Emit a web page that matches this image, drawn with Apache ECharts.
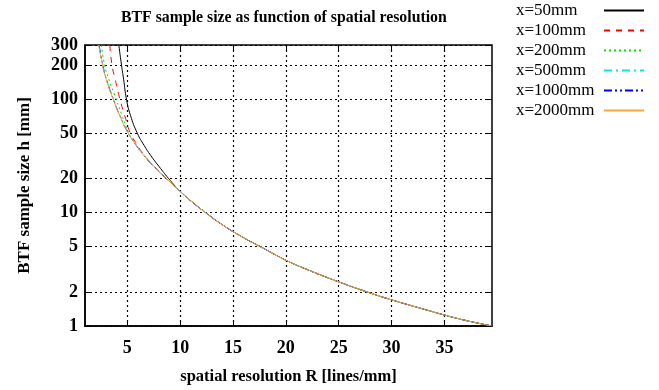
<!DOCTYPE html>
<html>
<head>
<meta charset="utf-8"/>
<title>BTF sample size</title>
<script src="https://cdn.jsdelivr.net/npm/echarts@6/dist/echarts.min.js"></script>
</head>
<body style="margin:0">
<div id="chart" style="width:659px;height:390px;"></div>
<script type="text/javascript">

// values: R [lines/mm] and h [mm]
var tailR = [10, 11, 12.4, 14, 16, 17.6, 20, 22, 25, 28, 30, 32, 35, 37, 39.5];
var tailH = [15.4, 12.7, 10, 7.8, 6.0, 5.0, 3.8, 3.15, 2.45, 1.95, 1.7, 1.5, 1.25, 1.12, 1.0];

var r50 = [4.2, 4.45, 4.65, 4.92, 5.3, 5.95, 6.6, 7.2, 8.0, 8.9];
var h50 = [300, 200, 150, 100, 72, 50, 39, 32, 25.5, 20];
var r100 = [3.35, 3.55, 3.85, 4.3, 4.75, 5.3, 5.9, 6.5, 7.5, 8.8];
var h100 = [300, 200, 150, 100, 72, 50, 40, 33, 25.8, 19.6];
var r200 = [2.55, 2.85, 3.25, 3.95, 4.5, 5.15, 5.7, 6.5, 7.5, 8.8];
var h200 = [300, 200, 150, 100, 72, 50, 41, 32.5, 25.5, 19.5];
var r500 = [2.35, 2.7, 3.05, 3.7, 4.33, 5.1, 5.7, 6.5, 7.5, 8.8];
var h500 = [300, 200, 150, 100, 71, 50, 41, 32.5, 25.5, 19.5];
var r1000 = [2.32, 2.67, 3.02, 3.67, 4.31, 5.1, 5.7, 6.5, 7.5, 8.8];
var h1000 = [300, 200, 150, 100, 71, 50, 41, 32.5, 25.5, 19.5];
var r2000 = [2.3, 2.65, 3.0, 3.65, 4.3, 5.1, 5.7, 6.5, 7.5, 8.8];
var h2000 = [300, 200, 150, 100, 71, 50, 41, 32.5, 25.5, 19.5];

var names = ['x=50mm', 'x=100mm', 'x=200mm', 'x=500mm', 'x=1000mm', 'x=2000mm'];
var xTicks = [5, 10, 15, 20, 25, 30, 35];
var yTicks = [1, 2, 5, 10, 20, 50, 100, 200, 300];

var font = 'Liberation Serif';

function pairs(r, h) {
    var out = [];
    var allR = r.concat(tailR), allH = h.concat(tailH);
    for (var i = 0; i < allR.length; i++) {
        out.push([allR[i], allH[i]]);
    }
    return out;
}

var styles = [
    {color: '#000000', type: 'solid'},
    {color: '#ff0000', type: [6, 6]},
    {color: '#00e000', type: [2, 3]},
    {color: '#00e8e8', type: [8, 4, 2, 4]},
    {color: '#0000ff', type: [8, 3, 2, 3, 2, 3]},
    {color: '#f8a838', type: 'solid'}
];
var dataSets = [pairs(r50, h50), pairs(r100, h100), pairs(r200, h200),
                pairs(r500, h500), pairs(r1000, h1000), pairs(r2000, h2000)];

var series = [];
for (var i = 0; i < names.length; i++) {
    series.push({
        name: names[i],
        type: 'line',
        data: dataSets[i],
        symbol: 'none',
        smooth: true,
        animation: false,
        lineStyle: {color: styles[i].color, type: styles[i].type, width: 1},
        itemStyle: {color: styles[i].color}
    });
}

var gridLine = {show: true, lineStyle: {color: '#000', type: [2, 3], width: 1.2}};

var chart = echarts.init(document.getElementById('chart'));
var option = {
    animation: false,
    title: {
        text: 'BTF sample size as function of spatial resolution',
        left: 116,
        top: 5,
        textStyle: {fontFamily: font, fontSize: 15.8, fontWeight: 'bold', color: '#000'}
    },
    legend: {
        orient: 'vertical',
        left: 516,
        top: 2,
        padding: 0,
        itemGap: 3,
        itemWidth: 40,
        itemHeight: 18,
        align: 'right',
        data: names,
        itemStyle: {opacity: 0},
        formatter: function (name) { return '{t|' + name + '}'; },
        textStyle: {
            fontFamily: font, fontSize: 17, color: '#000',
            rich: {t: {width: 83, align: 'left', fontFamily: font, fontSize: 17, lineHeight: 18}}
        }
    },
    grid: {left: 85, top: 45, right: 167, bottom: 63, show: true, borderColor: '#000', borderWidth: 1.5},
    xAxis: [{
        type: 'value',
        min: 1,
        max: 39.5,
        name: 'spatial resolution R [lines/mm]',
        nameLocation: 'middle',
        nameGap: 42,
        nameTextStyle: {fontFamily: font, fontSize: 16.5, fontWeight: 'bold', color: '#000'},
        axisLine: {lineStyle: {color: '#000', width: 1.5}},
        axisTick: {inside: true, length: 6, customValues: xTicks, lineStyle: {color: '#000'}},
        axisLabel: {customValues: xTicks, margin: 13, fontFamily: font, fontSize: 18, fontWeight: 'bold', color: '#000'},
        splitLine: gridLine
    }, {
        type: 'value',
        min: 1,
        max: 39.5,
        position: 'top',
        axisLine: {show: false},
        axisTick: {inside: true, length: 6, customValues: xTicks, lineStyle: {color: '#000'}},
        axisLabel: {show: false},
        splitLine: {show: false}
    }],
    yAxis: [{
        type: 'log',
        logBase: 10,
        min: 1,
        max: 300,
        name: 'BTF sample size h [mm]',
        nameLocation: 'middle',
        nameGap: 52,
        nameTextStyle: {fontFamily: font, fontSize: 17, fontWeight: 'bold', color: '#000'},
        axisLine: {lineStyle: {color: '#000', width: 1.5}},
        axisTick: {inside: true, length: 6, customValues: yTicks, lineStyle: {color: '#000'}},
        axisLabel: {customValues: yTicks, margin: 7, fontFamily: font, fontSize: 18, fontWeight: 'bold', color: '#000'},
        splitLine: gridLine,
        minorTick: {show: false}
    }, {
        type: 'log',
        logBase: 10,
        min: 1,
        max: 300,
        position: 'right',
        axisLine: {show: false},
        axisTick: {inside: true, length: 6, customValues: yTicks, lineStyle: {color: '#000'}},
        axisLabel: {show: false},
        splitLine: {show: false}
    }],
    series: series
};
chart.setOption(option);

</script>
</body>
</html>
